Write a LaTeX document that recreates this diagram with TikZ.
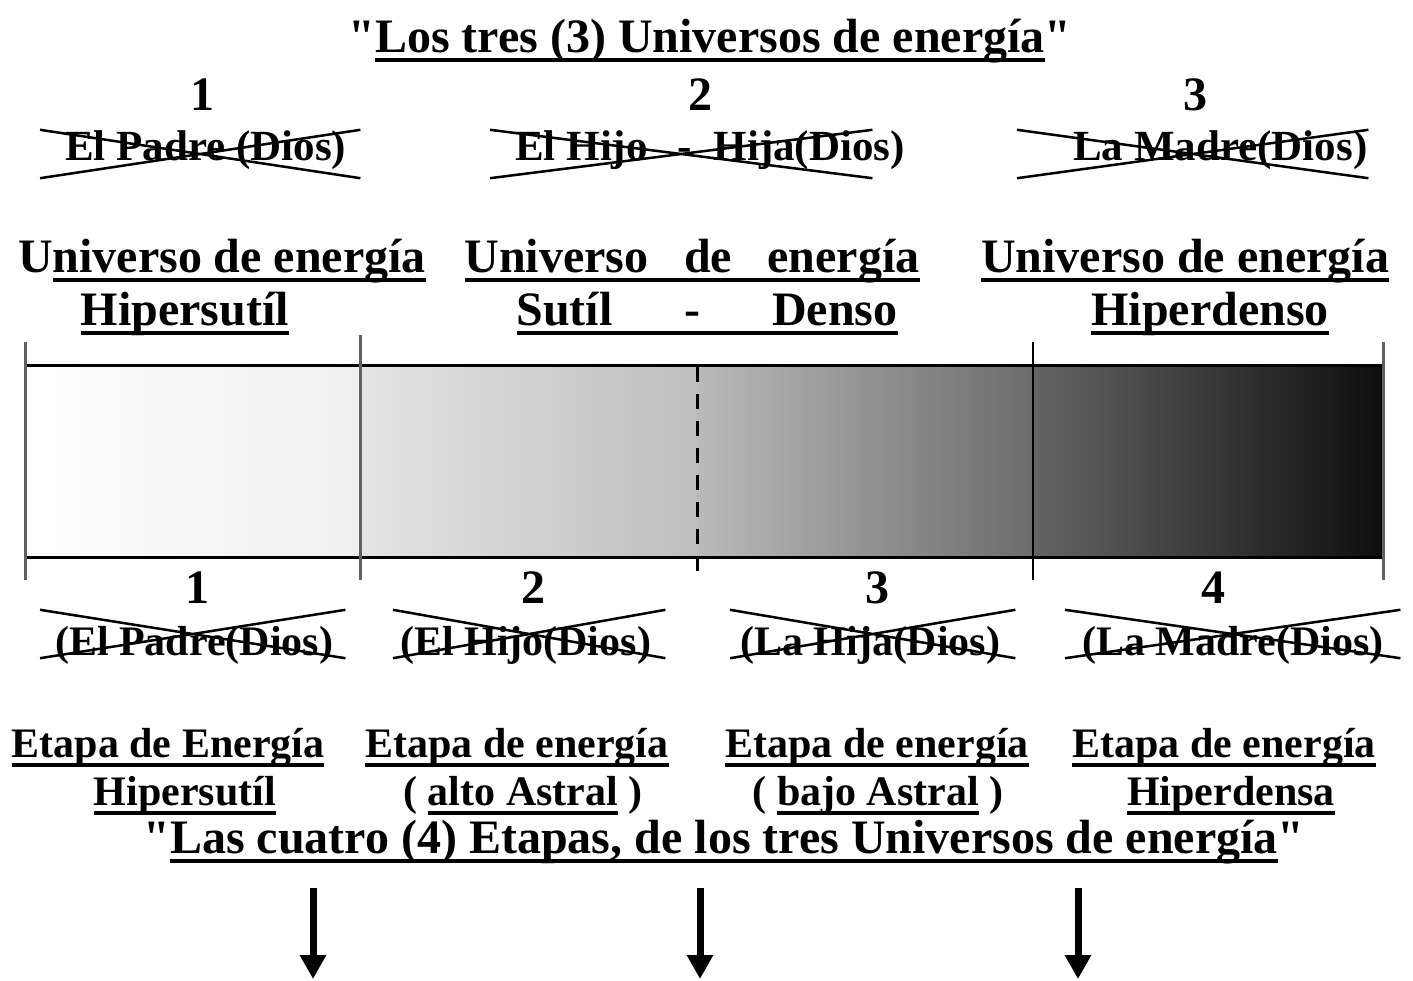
\documentclass[tikz,border=0pt]{standalone}
\usepackage{fontspec}
\setmainfont{Liberation Serif}[Ligatures=TeXOff]
\usetikzlibrary{arrows.meta}

\definecolor{gA}{HTML}{FFFFFF}
\definecolor{gB}{HTML}{EFEFEF}
\definecolor{gC}{HTML}{E4E4E4}
\definecolor{gD}{HTML}{BEBEBE}
\definecolor{gE}{HTML}{BABABA}
\definecolor{gF}{HTML}{6C6C6C}
\definecolor{gG}{HTML}{646464}
\definecolor{gH}{HTML}{0E0E0E}

\newsavebox\subbox
\newcommand\subr[1]{\sbox\subbox{#1}\rlap{\rule[-10pt]{\wd\subbox}{4pt}}\usebox\subbox}
\newcommand\tach[3]{\makebox[#1][l]{\hspace{#2}#3}}

\begin{document}
\begin{tikzpicture}[x=1pt,y=-1pt,
  every node/.style={inner sep=0pt, anchor=base, font=\fontsize{48}{56}\selectfont\bfseries},
  etapa/.style={font=\fontsize{42}{48}\selectfont\bfseries},
  tachado/.style={anchor=base west, font=\fontsize{43}{50}\selectfont\bfseries},
  tachArriba/.style={text height=30pt, text depth=18pt},
  tachAbajo/.style={text height=45pt, text depth=3pt, font=\fontsize{42}{50}\selectfont\bfseries},
  cruz/.style={line width=2.5pt},
  borde/.style={line width=3pt},
  marca/.style={line width=3pt, gray!75!black},
  flecha/.style={line width=7pt, -{Triangle[width=25pt,length=24pt]}}]
\useasboundingbox (0,0) rectangle (1413,980);

% titulo
\node (tit) at (710,52) {"\subr{Los tres (3) Universos de energía}"};

% los tres universos
\node (u1) at (202,110) {1};
\node (u2) at (700,110) {2};
\node (u3) at (1195,110) {3};
\node[tachado, tachArriba] (pd) at (40,160) {\tach{320pt}{25pt}{El Padre (Dios)}};
\node[tachado, tachArriba] (hd) at (490,160) {\tach{382pt}{25pt}{El Hijo\hspace{0.7em}-\hspace{0.5em}Hija(Dios)}};
\node[tachado, tachArriba] (md) at (1017,160) {\tach{351pt}{56pt}{La Madre(Dios)}};

\node (ue1) at (222,272) {U\subr{niverso de energía}};
\node (ue2) at (692,272) {\subr{\hbox to 455pt{Universo\hfill de\hfill energía}}};
\node (ue3) at (1185,272) {\subr{Universo de energía}};
\node (un1) at (185,325) {\subr{Hipersutíl}};
\node (un2) at (707,325) {\subr{\hbox to 381pt{Sutíl\hfill -\hfill Denso}}};
\node (un3) at (1210,325) {\subr{Hiperdenso}};

% barra
\shade[left color=gA, right color=gB] (25,365) rectangle (360,557);
\shade[left color=gC, right color=gD] (360,365) rectangle (697,557);
\shade[left color=gE, right color=gF] (697,365) rectangle (1033,557);
\shade[left color=gG, right color=gH] (1033,365) rectangle (1383,557);
\draw[borde] (25,365) -- (1383,365) (25,557) -- (1383,557);
\foreach \x/\t in {25/342, 360/335, 1383/342}
  \draw[marca] (\x,\t) -- (\x,580);
\draw[line width=1.5pt] (1033,342) -- (1033,580);
\draw[line width=3pt, dash pattern=on 15pt off 12pt] (697,367) -- (697,578);

% las cuatro etapas
\node (e1) at (197,603) {1};
\node (e2) at (533,603) {2};
\node (e3) at (877,603) {3};
\node (e4) at (1213,603) {4};
\node[tachado, tachAbajo] (p4) at (40,655) {\tach{305pt}{15pt}{(El Padre(Dios)}};
\node[tachado, tachAbajo] (h4) at (393,655) {\tach{272pt}{7pt}{(El Hijo(Dios)}};
\node[tachado, tachAbajo] (j4) at (730,655) {\tach{285pt}{10pt}{(La Hija(Dios)}};
\node[tachado, tachAbajo] (m4) at (1065,655) {\tach{335pt}{17pt}{(La Madre(Dios)}};

\foreach \n in {pd,hd,md,p4,h4,j4,m4}
  \draw[cruz] (\n.north west) -- (\n.south east) (\n.south west) -- (\n.north east);

\node[etapa] (et1) at (168,757) {\subr{Etapa de Energía}};
\node[etapa] (et2) at (517,757) {\subr{Etapa de energía}};
\node[etapa] (et3) at (877,757) {\subr{Etapa de energía}};
\node[etapa] (et4) at (1224,757) {\subr{Etapa de energía}};
\node[etapa] (es1) at (185,805) {\subr{Hipersutíl}};
\node[etapa] (es2) at (523,805) {( \subr{alto Astral} )};
\node[etapa] (es3) at (878,805) {( \subr{bajo Astral} )};
\node[etapa] (es4) at (1231,805) {\subr{Hiperdensa}};

\node (tit2) at (724,853) {"\subr{Las cuatro (4) Etapas, de los tres Universos de energía}"};

% flechas
\foreach \x [count=\i] in {313,700,1078} {
  \coordinate (s\i) at (\x,888);
  \coordinate (f\i) at (\x,979);
  \draw[flecha] (s\i) -- (f\i);
}
\end{tikzpicture}
\end{document}
